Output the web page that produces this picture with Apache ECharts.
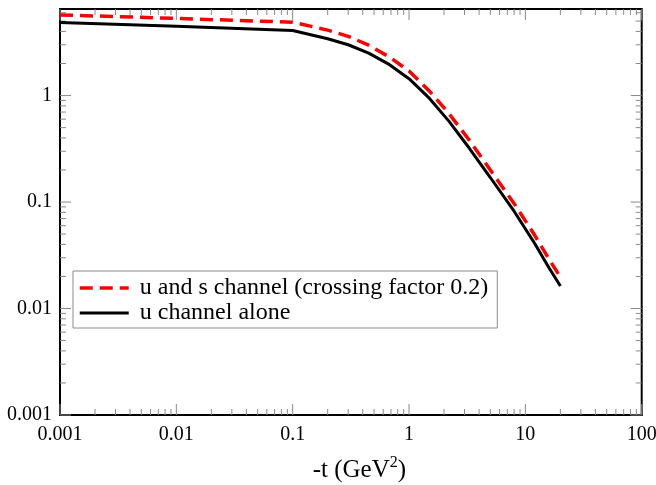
<!DOCTYPE html>
<html>
<head>
<meta charset="utf-8">
<script src="https://cdn.jsdelivr.net/npm/echarts@6/dist/echarts.min.js"></script>
<style>
  html, body { margin: 0; padding: 0; background: #fff; }
  #chart { width: 656px; height: 485px; }
</style>
</head>
<body>
<div id="chart"></div>
<script>
// -t values (GeV^2) and cross sections for the two calculations
const tUS = [0.001, 0.01, 0.1, 0.2, 0.3, 0.45, 0.68, 1, 1.5, 2.2, 3.3, 5, 8, 12, 16, 20];
const sigmaUS = [5.72, 5.3, 4.88, 4.12, 3.6, 2.97, 2.3, 1.7, 1.1, 0.68, 0.38, 0.2, 0.097, 0.049, 0.029, 0.0197];

const tU = [0.001, 0.01, 0.1, 0.2, 0.3, 0.45, 0.68, 1, 1.5, 2.2, 3.3, 5, 8, 12, 16, 20];
const sigmaU = [4.85, 4.47, 4.08, 3.42, 3.0, 2.5, 1.95, 1.44, 0.94, 0.575, 0.32, 0.17, 0.082, 0.041, 0.024, 0.0163];

const seriesNames = ['u and s channel (crossing factor 0.2)', 'u channel alone'];

// axis ranges and tick marks
const X_MIN = 0.001, X_MAX = 100;
const Y_MIN = 0.001, Y_MAX = 6.5;
const xMajor = [0.001, 0.01, 0.1, 1, 10, 100];
const xLabels = ['0.001', '0.01', '0.1', '1', '10', '100'];
const yMajor = [0.001, 0.01, 0.1, 1];
const yLabels = ['0.001', '0.01', '0.1', '1'];
const minorSteps = [2, 3, 4, 5, 6, 7, 8, 9];

const FONT = 'Liberation Serif';
const TICK_COLOR = '#8a8a8a';

function zip(a, b) { return a.map((v, i) => [v, b[i]]); }

function labelFor(v, majors, labels) {
  for (let i = 0; i < majors.length; i++) {
    if (Math.abs(Math.log10(v) - Math.log10(majors[i])) < 1e-6) return labels[i];
  }
  return '';
}

// tick lists (major flag in third column)
const xTickData = [];
const yTickData = [];
xMajor.forEach((d, i) => {
  xTickData.push([d, Y_MIN, 1]);
  if (i < xMajor.length - 1) minorSteps.forEach(m => xTickData.push([d * m, Y_MIN, 0]));
});
yMajor.forEach(d => {
  yTickData.push([X_MIN, d, 1]);
  minorSteps.forEach(m => { if (d * m <= Y_MAX) yTickData.push([X_MIN, d * m, 0]); });
});

function tickLine(x1, y1, x2, y2) {
  return { type: 'line', shape: { x1, y1, x2, y2 }, style: { stroke: TICK_COLOR, lineWidth: 1 } };
}

const chart = echarts.init(document.getElementById('chart'), null, { renderer: 'canvas' });

chart.setOption({
  animation: false,
  backgroundColor: '#ffffff',
  grid: {
    left: 60, right: 14.3, top: 9, bottom: 70,
    outerBoundsMode: 'none',
    show: true, borderColor: '#000', borderWidth: 2, backgroundColor: 'transparent'
  },
  legend: {
    data: [
      { name: seriesNames[0], lineStyle: { width: 3.5 } },
      { name: seriesNames[1], lineStyle: { width: 3 } }
    ],
    orient: 'vertical',
    left: 73, top: 271,
    padding: [5, 9, 3, 5],
    itemGap: 1,
    itemWidth: 49, itemHeight: 14,
    itemStyle: { opacity: 0 },
    backgroundColor: '#fff',
    borderColor: '#8a8a8a', borderWidth: 1,
    textStyle: { fontFamily: FONT, fontSize: 24, color: '#000', lineHeight: 24, padding: [0, 0, 0, 6] }
  },
  xAxis: {
    type: 'log', logBase: 10, min: X_MIN, max: X_MAX,
    name: '-t (GeV{sup|2})',
    nameLocation: 'middle', nameGap: 40,
    nameTextStyle: {
      fontFamily: FONT, fontSize: 25, color: '#000',
      padding: [0, 0, 0, 17],
      rich: { sup: { fontFamily: FONT, fontSize: 16, color: '#000', padding: [0, 0, 14, 0] } }
    },
    axisLine: { show: true, onZero: false, lineStyle: { color: '#000', width: 2 } },
    axisTick: { show: false },
    splitLine: { show: false },
    axisLabel: {
      fontFamily: FONT, fontSize: 20, color: '#000', margin: 10,
      showMinLabel: true, showMaxLabel: true,
      formatter: v => labelFor(v, xMajor, xLabels)
    }
  },
  yAxis: {
    type: 'log', logBase: 10, min: Y_MIN, max: Y_MAX,
    axisLine: { show: true, onZero: false, lineStyle: { color: '#000', width: 2 } },
    axisTick: { show: false },
    splitLine: { show: false },
    axisLabel: {
      fontFamily: FONT, fontSize: 20, color: '#000', margin: 8,
      showMaxLabel: false,
      formatter: v => labelFor(v, yMajor, yLabels)
    }
  },
  series: [
    {
      name: 'xticks', type: 'custom', silent: true, clip: false, z: 1,
      encode: { x: 0, y: 1 },
      data: xTickData,
      renderItem: function (params, api) {
        const v = api.value(0);
        const len = api.value(2) ? 11 : 6;
        const b = api.coord([v, Y_MIN]);
        const t = api.coord([v, Y_MAX]);
        return { type: 'group', children: [
          tickLine(b[0], b[1], b[0], b[1] - len),
          tickLine(t[0], t[1], t[0], t[1] + len)
        ] };
      }
    },
    {
      name: 'yticks', type: 'custom', silent: true, clip: false, z: 1,
      encode: { x: 0, y: 1 },
      data: yTickData,
      renderItem: function (params, api) {
        const v = api.value(1);
        const len = api.value(2) ? 11 : 6;
        const l = api.coord([X_MIN, v]);
        const r = api.coord([X_MAX, v]);
        return { type: 'group', children: [
          tickLine(l[0], l[1], l[0] + len, l[1]),
          tickLine(r[0], r[1], r[0] - len, r[1])
        ] };
      }
    },
    {
      name: seriesNames[1], type: 'line', smooth: false, symbol: 'none', z: 3,
      data: zip(tU, sigmaU),
      lineStyle: { color: '#000', width: 3 },
      itemStyle: { color: '#000' }
    },
    {
      name: seriesNames[0], type: 'line', smooth: false, symbol: 'none', z: 4,
      data: zip(tUS, sigmaUS),
      lineStyle: { color: '#ff0000', width: 3.5, type: [13, 7] },
      itemStyle: { color: '#ff0000' }
    }
  ]
});
</script>
</body>
</html>
